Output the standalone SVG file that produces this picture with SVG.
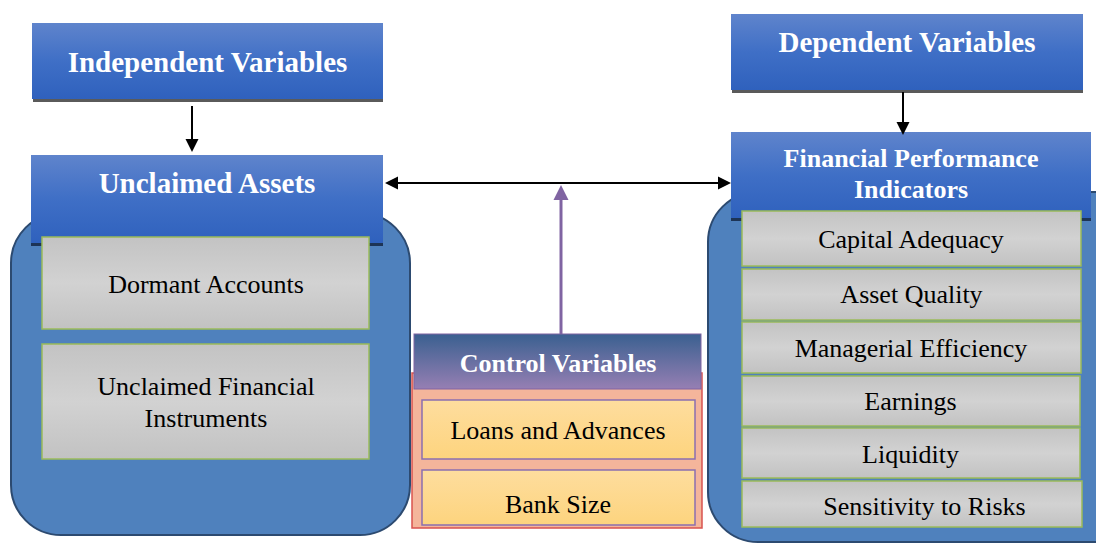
<svg xmlns="http://www.w3.org/2000/svg" width="1096" height="543" viewBox="0 0 1096 543">
<defs>
<linearGradient id="gBlue" x1="0" y1="0" x2="0" y2="1">
<stop offset="0" stop-color="#5f84cc"/><stop offset="0.5" stop-color="#3f6fc6"/><stop offset="1" stop-color="#2f61bd"/>
</linearGradient>
<linearGradient id="gGray" x1="0" y1="0" x2="0" y2="1">
<stop offset="0" stop-color="#c3c3c3"/><stop offset="0.5" stop-color="#d2d2d2"/><stop offset="1" stop-color="#c2c2c2"/>
</linearGradient>
<linearGradient id="gPurple" x1="0" y1="0" x2="0" y2="1">
<stop offset="0" stop-color="#3a6090"/><stop offset="1" stop-color="#967fb3"/>
</linearGradient>
<linearGradient id="gYellow" x1="0" y1="0" x2="0" y2="1">
<stop offset="0" stop-color="#fedd9e"/><stop offset="1" stop-color="#fdd47e"/>
</linearGradient>
</defs>
<rect width="1096" height="543" fill="#fff"/>

<g id="containers">
<rect x="11" y="213" width="399" height="322" rx="50" ry="50" fill="#4f81bd" stroke="#2c4a70" stroke-width="2"/>
<rect x="708" y="192" width="440" height="350" rx="50" ry="50" fill="#4f81bd" stroke="#2c4a70" stroke-width="2"/>
<rect x="412" y="373" width="290" height="155" fill="#f4b59b" stroke="#d9534f" stroke-width="1.5"/>
</g>

<g id="independent">
<rect fill="#5a5a5a" x="33" y="26" width="350" height="76"/>
<rect fill="url(#gBlue)" x="32" y="23" width="351" height="76"/>
<text x="207.5" y="72" font-family="Liberation Serif" font-size="29" font-weight="bold" fill="#fff" text-anchor="middle">Independent Variables</text>
</g>
<g id="unclaimed-assets">
<rect fill="#1d3456" x="31" y="158" width="352" height="88"/>
<rect fill="url(#gBlue)" x="31" y="155" width="352" height="88"/>
<text x="207" y="193" font-family="Liberation Serif" font-size="29" font-weight="bold" fill="#fff" text-anchor="middle">Unclaimed Assets</text>
</g>
<g id="dependent">
<rect fill="#5a5a5a" x="732" y="17" width="351" height="76"/>
<rect fill="url(#gBlue)" x="731" y="14" width="352" height="76"/>
<text x="907" y="52" font-family="Liberation Serif" font-size="29" font-weight="bold" fill="#fff" text-anchor="middle">Dependent Variables</text>
</g>
<g id="fpi">
<rect fill="#1d3456" x="731" y="135" width="360" height="86"/>
<rect fill="url(#gBlue)" x="731" y="132" width="360" height="86"/>
<text x="911" y="167" font-family="Liberation Serif" font-size="26" font-weight="bold" fill="#fff" text-anchor="middle">Financial Performance</text>
<text x="911" y="198" font-family="Liberation Serif" font-size="26" font-weight="bold" fill="#fff" text-anchor="middle">Indicators</text>
</g>
<g id="control">
<rect x="414" y="334" width="287" height="55" fill="url(#gPurple)" stroke="#8064a2" stroke-width="1"/>
<text x="558" y="372" font-family="Liberation Serif" font-size="26" font-weight="bold" fill="#fff" text-anchor="middle">Control Variables</text>
</g>

<g id="dormant">
<rect fill="url(#gGray)" stroke="#9bbb59" stroke-width="1.5" x="42" y="237" width="327" height="92"/>
<text x="206" y="293" font-family="Liberation Serif" font-size="26" fill="#000" text-anchor="middle">Dormant Accounts</text>
</g>
<g id="unclaimed-instruments">
<rect fill="url(#gGray)" stroke="#9bbb59" stroke-width="1.5" x="42" y="344" width="327" height="115"/>
<text x="206" y="395" font-family="Liberation Serif" font-size="26" fill="#000" text-anchor="middle">Unclaimed Financial</text>
<text x="206" y="427" font-family="Liberation Serif" font-size="26" fill="#000" text-anchor="middle">Instruments</text>
</g>
<g id="loans">
<rect x="422" y="400" width="273" height="59" fill="url(#gYellow)" stroke="#8a6fb0" stroke-width="1.5"/>
<text x="558" y="439" font-family="Liberation Serif" font-size="26" fill="#000" text-anchor="middle">Loans and Advances</text>
</g>
<g id="bank-size">
<rect x="422" y="470" width="273" height="55" fill="url(#gYellow)" stroke="#8a6fb0" stroke-width="1.5"/>
<text x="558" y="513" font-family="Liberation Serif" font-size="26" fill="#000" text-anchor="middle">Bank Size</text>
</g>
<g id="capital-adequacy">
<rect fill="url(#gGray)" stroke="#9bbb59" stroke-width="1.5" x="742" y="211" width="339" height="55"/>
<text x="911" y="248" font-family="Liberation Serif" font-size="26" fill="#000" text-anchor="middle">Capital Adequacy</text>
</g>
<g id="asset-quality">
<rect fill="url(#gGray)" stroke="#9bbb59" stroke-width="1.5" x="742" y="269" width="339" height="51"/>
<text x="911.5" y="303" font-family="Liberation Serif" font-size="26" fill="#000" text-anchor="middle">Asset Quality</text>
</g>
<g id="managerial-efficiency">
<rect fill="url(#gGray)" stroke="#9bbb59" stroke-width="1.5" x="742" y="322" width="339" height="51"/>
<text x="911" y="357" font-family="Liberation Serif" font-size="26" fill="#000" text-anchor="middle">Managerial Efficiency</text>
</g>
<g id="earnings">
<rect fill="url(#gGray)" stroke="#9bbb59" stroke-width="1.5" x="742" y="376" width="338" height="50"/>
<text x="910.5" y="410" font-family="Liberation Serif" font-size="26" fill="#000" text-anchor="middle">Earnings</text>
</g>
<g id="liquidity">
<rect fill="url(#gGray)" stroke="#9bbb59" stroke-width="1.5" x="742" y="428" width="338" height="50"/>
<text x="910.5" y="463" font-family="Liberation Serif" font-size="26" fill="#000" text-anchor="middle">Liquidity</text>
</g>
<g id="sensitivity">
<rect fill="url(#gGray)" stroke="#9bbb59" stroke-width="1.5" x="742" y="481" width="340" height="46"/>
<text x="924.5" y="515" font-family="Liberation Serif" font-size="26" fill="#000" text-anchor="middle">Sensitivity to Risks</text>
</g>

<g id="connectors">
<line x1="192" y1="106" x2="192" y2="140" stroke="#000" stroke-width="2"/>
<path d="M185.5,139 L198.5,139 L192,152 Z" fill="#000"/>
<line x1="903" y1="92" x2="903" y2="123" stroke="#000" stroke-width="2"/>
<path d="M896.5,122 L909.5,122 L903,135 Z" fill="#000"/>
<line x1="397" y1="183" x2="719" y2="183" stroke="#000" stroke-width="2"/>
<path d="M398,176.5 L398,189.5 L385,183 Z" fill="#000"/>
<path d="M718,176.5 L718,189.5 L731,183 Z" fill="#000"/>
<line x1="561" y1="334" x2="561" y2="199" stroke="#8064a2" stroke-width="3"/>
<path d="M553.5,200 L568.5,200 L561,185 Z" fill="#8064a2"/>
</g>
</svg>
